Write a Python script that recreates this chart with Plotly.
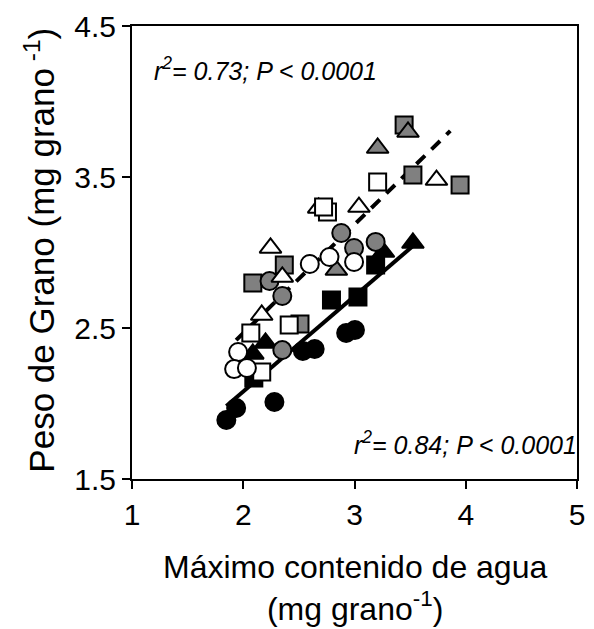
import plotly.graph_objects as go

# ---- data (x = máximo contenido de agua, y = peso de grano) ----
black_circle_x = [1.848, 1.936, 2.28, 2.536, 2.642, 2.925, 3.004]
black_circle_y = [1.891, 1.970, 2.010, 2.348, 2.361, 2.467, 2.487]

black_square_x = [2.095, 2.793, 3.031, 3.19]
black_square_y = [2.169, 2.685, 2.705, 2.917]

black_triangle_x = [2.086, 2.2, 3.26, 3.525]
black_triangle_y = [2.328, 2.401, 3.003, 3.063]

gray_square_x = [2.086, 2.369, 2.51, 3.446, 3.525, 3.949]
gray_square_y = [2.798, 2.917, 2.526, 3.844, 3.513, 3.447]

gray_circle_x = [2.236, 2.351, 2.351, 2.881, 2.996, 3.19]
gray_circle_y = [2.811, 2.712, 2.354, 3.129, 3.030, 3.070]

gray_triangle_x = [2.837, 3.208, 3.481]
gray_triangle_y = [2.884, 3.692, 3.798]

white_triangle_x = [2.245, 2.351, 2.166, 2.678, 3.04, 3.737]
white_triangle_y = [3.030, 2.838, 2.586, 3.295, 3.301, 3.48]

white_square_x = [2.068, 2.166, 2.413, 2.757, 2.722, 3.208]
white_square_y = [2.467, 2.209, 2.520, 3.268, 3.301, 3.467]

white_circle_x = [1.954, 1.918, 2.033, 2.598, 2.775, 2.996]
white_circle_y = [2.341, 2.228, 2.235, 2.924, 2.970, 2.937]

# regression lines (endpoints)
solid_x = [1.848, 3.525]
solid_y = [1.983, 3.043]
dash_x = [1.936, 3.861]
dash_y = [2.42, 3.805]

x_ticks = [1, 2, 3, 4, 5]
y_ticks = [1.5, 2.5, 3.5, 4.5]

FONT = "Liberation Sans, Arial, sans-serif"
GRAY = "#808080"

fig = go.Figure()

fig.add_trace(go.Scatter(x=solid_x, y=solid_y, mode="lines",
                         line=dict(color="black", width=4), showlegend=False))
fig.add_trace(go.Scatter(x=dash_x, y=dash_y, mode="lines",
                         line=dict(color="black", width=4, dash="12px,9px"), showlegend=False))

series = [
    (black_circle_x, black_circle_y, "circle", "black", 18),
    (black_square_x, black_square_y, "square", "black", 17),
    (black_triangle_x, black_triangle_y, "triangle-up", "black", 19),
    (gray_square_x, gray_square_y, "square", GRAY, 17),
    (gray_circle_x, gray_circle_y, "circle", GRAY, 18),
    (gray_triangle_x, gray_triangle_y, "triangle-up", GRAY, 19),
    (white_triangle_x, white_triangle_y, "triangle-up", "white", 19),
    (white_square_x, white_square_y, "square", "white", 17),
    (white_circle_x, white_circle_y, "circle", "white", 18),
]
for xs, ys, sym, col, sz in series:
    fig.add_trace(go.Scatter(
        x=xs, y=ys, mode="markers", showlegend=False,
        marker=dict(symbol=sym, color=col, size=sz,
                    line=dict(color="black", width=2))))

axis_common = dict(showgrid=False, zeroline=False, showline=True, linecolor="black",
                   linewidth=2, mirror=True, ticks="outside", ticklen=8, tickwidth=2,
                   tickcolor="black", tickfont=dict(family=FONT, size=30, color="black"))

fig.update_xaxes(range=[1, 5], tickvals=x_ticks, ticktext=[str(v) for v in x_ticks], **axis_common)
fig.update_yaxes(range=[1.5, 4.5], tickvals=y_ticks, ticktext=[str(v) for v in y_ticks], **axis_common)

annotations = [
    dict(x=1.177, y=4.216, xref="x", yref="y", xanchor="left", yanchor="middle",
         text="<i>r<sup>2</sup>= 0.73; P &lt; 0.0001</i>", showarrow=False,
         font=dict(family=FONT, size=25, color="black")),
    dict(x=4.94, y=1.738, xref="x", yref="y", xanchor="right", yanchor="middle", xshift=9,
         text="<i>r<sup>2</sup>= 0.84; P &lt; 0.0001</i>", showarrow=False,
         font=dict(family=FONT, size=25, color="black")),
    dict(x=0.5, y=-0.2406, xref="paper", yref="paper", xanchor="center", yanchor="middle",
         text="Máximo contenido de agua<br>(mg grano<sup>-1</sup>)", showarrow=False,
         font=dict(family=FONT, size=32, color="black")),
    dict(x=-0.2075, y=0.5055, xref="paper", yref="paper", xanchor="center", yanchor="middle",
         text="Peso de Grano (mg grano<sup> -1</sup>)", showarrow=False, textangle=-90,
         font=dict(family=FONT, size=35, color="black")),
]

fig.update_layout(width=594, height=629, margin=dict(l=132, r=9, t=26, b=150),
                  plot_bgcolor="white", paper_bgcolor="white",
                  annotations=annotations, showlegend=False)

fig.write_html("out.html")
